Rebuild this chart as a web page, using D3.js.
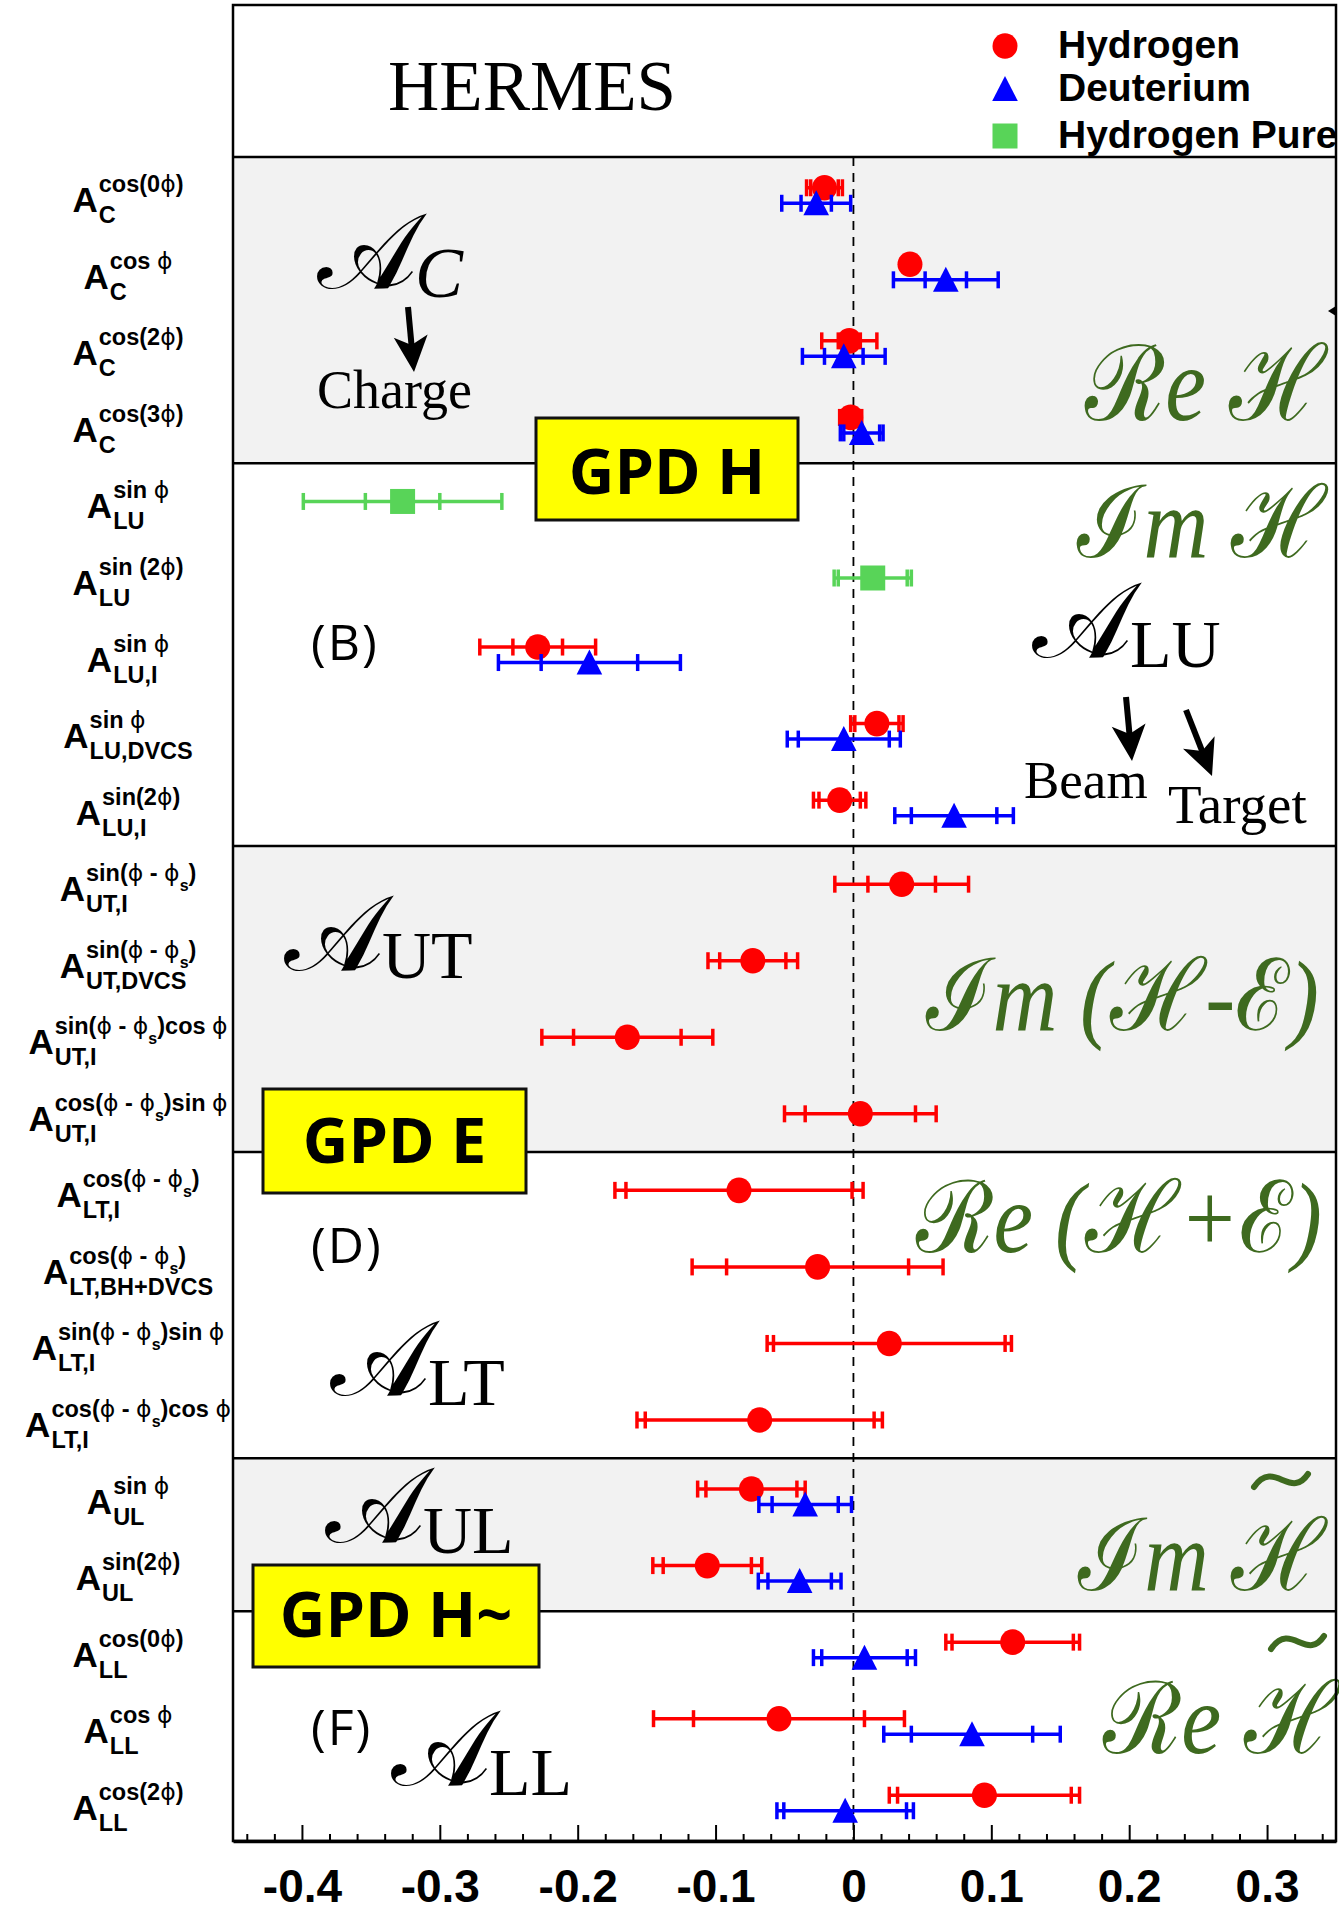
<!DOCTYPE html>
<html>
<head>
<meta charset="utf-8">
<script src="https://cdn.jsdelivr.net/npm/d3@7"></script>
<style>
  html, body { margin: 0; padding: 0; background: #fff; }
  svg { display: block; }
  text { white-space: pre; }
</style>
</head>
<body>
<svg id="chart" width="1339" height="1911"></svg>
<script>
// ---------- data ----------
// asymmetry labels: superscript (modulation) and subscript (type) of each row, top to bottom
const labelSup = [
  "cos(0ϕ)", "cos ϕ", "cos(2ϕ)", "cos(3ϕ)",
  "sin ϕ", "sin (2ϕ)", "sin ϕ", "sin ϕ", "sin(2ϕ)",
  "sin(ϕ - ϕ_s)", "sin(ϕ - ϕ_s)", "sin(ϕ - ϕ_s)cos ϕ", "cos(ϕ - ϕ_s)sin ϕ",
  "cos(ϕ - ϕ_s)", "cos(ϕ - ϕ_s)", "sin(ϕ - ϕ_s)sin ϕ", "cos(ϕ - ϕ_s)cos ϕ",
  "sin ϕ", "sin(2ϕ)",
  "cos(0ϕ)", "cos ϕ", "cos(2ϕ)"
];
const labelSub = [
  "C", "C", "C", "C",
  "LU", "LU", "LU,I", "LU,DVCS", "LU,I",
  "UT,I", "UT,DVCS", "UT,I", "UT,I",
  "LT,I", "LT,BH+DVCS", "LT,I", "LT,I",
  "UL", "UL",
  "LL", "LL", "LL"
];

// hydrogen target: value, statistical error, total error (null = not measured)
const hydrogenValue = [-0.021, 0.041, -0.003, -0.002, null, null, -0.229, 0.017, -0.010,
  0.035, -0.073, -0.164, 0.005, -0.083, -0.026, 0.026, -0.068, -0.074, -0.106, 0.1155, -0.054, 0.095];
const hydrogenStat = [0.010, 0.004, 0.008, 0.006, null, null, 0.018, 0.016, 0.015,
  0.0245, 0.024, 0.039, 0.040, 0.082, 0.066, 0.084, 0.083, 0.033, 0.032, 0.044, 0.062, 0.063];
const hydrogenTotal = [0.013, 0.005, 0.020, 0.008, null, null, 0.042, 0.019, 0.019,
  0.0485, 0.0325, 0.062, 0.055, 0.090, 0.091, 0.0886, 0.089, 0.039, 0.0395, 0.0485, 0.091, 0.069];

// deuterium target
const deuteriumValue = [-0.027, 0.067, -0.007, 0.006, null, null, -0.1915, -0.007, 0.073,
  null, null, null, null, null, null, null, null, -0.035, -0.039, 0.008, 0.086, -0.006];
const deuteriumStat = [0.011, 0.015, 0.014, 0.013, null, null, 0.035, 0.033, 0.031,
  null, null, null, null, null, null, null, null, 0.024, 0.023, 0.031, 0.044, 0.0445];
const deuteriumTotal = [0.025, 0.038, 0.030, 0.0155, null, null, 0.066, 0.041, 0.043,
  null, null, null, null, null, null, null, null, 0.0336, 0.030, 0.037, 0.064, 0.0495];

// pure hydrogen (recoil-tagged) sample
const pureValue = [null, null, null, null, -0.327, 0.014, null, null, null,
  null, null, null, null, null, null, null, null, null, null, null, null, null];
const pureStat = [null, null, null, null, 0.027, 0.025, null, null, null,
  null, null, null, null, null, null, null, null, null, null, null, null, null];
const pureTotal = [null, null, null, null, 0.072, 0.028, null, null, null,
  null, null, null, null, null, null, null, null, null, null, null, null, null];

// groups of rows (first row, one past last row)
const sectionStart = [0, 4, 9, 13, 17, 19];
const sectionEnd = [4, 9, 13, 17, 19, 22];

const tickValues = [-0.4, -0.3, -0.2, -0.1, 0, 0.1, 0.2, 0.3];
const tickLabels = ["-0.4", "-0.3", "-0.2", "-0.1", "0", "0.1", "0.2", "0.3"];
const legendNames = ["Hydrogen", "Deuterium", "Hydrogen Pure"];

// ---------- layout ----------
const svg = d3.select("#chart");
const plotL = 233, plotR = 1336, plotT = 5, headerB = 157, plotB = 1841;
const RED = "#ff0000", BLUE = "#0000ff", GREEN = "#58d458", TEXTGREEN = "#3e6a1f";
const SANS = "'Liberation Sans', Arial, Helvetica, sans-serif";
const SERIF = "'Liberation Serif', 'Times New Roman', serif";
const HUM = "'Open Sans', 'Noto Sans', sans-serif";

const x = d3.scaleLinear().domain([-0.45, 0.35]).range([plotL, plotR]);
const y = d3.scaleBand().domain(d3.range(labelSub.length)).range([headerB, plotB]);
const rowMid = i => y(i) + y.bandwidth() / 2;
const rowTop = i => (i >= labelSub.length ? plotB : y(i));

// shaded bands
const bands = svg.append("g");
sectionStart.forEach((s, k) => {
  if (k % 2 === 0) {
    bands.append("rect")
      .attr("x", plotL).attr("y", rowTop(s))
      .attr("width", plotR - plotL)
      .attr("height", rowTop(sectionEnd[k]) - rowTop(s))
      .attr("fill", "#f2f2f2");
  }
});

// ---------- text annotations ----------
const annot = svg.append("g");

function scriptText(parts, x0, base, size, width) {
  const t = annot.append("text")
    .attr("x", x0).attr("y", base)
    .attr("font-size", size)
    .attr("fill", TEXTGREEN)
    .attr("textLength", width)
    .attr("lengthAdjust", "spacingAndGlyphs");
  parts.forEach(([s, kind]) => {
    const sp = t.append("tspan").text(s);
    if (kind === "script") sp.attr("font-family", "'DejaVu Serif', serif");
    else sp.attr("font-family", SERIF).attr("font-style", "italic");
  });
  return t;
}
scriptText([["ℛ", "script"], ["e", "it"], [" ", "it"], ["ℋ", "script"]], 1085, 420, 105, 241);
scriptText([["ℐ", "script"], ["m", "it"], [" ", "it"], ["ℋ", "script"]], 1077, 557, 100, 249);
scriptText([["ℐ", "script"], ["m", "it"], [" (", "it"], ["ℋ", "script"], ["-", "it"], ["ℰ", "script"], [")", "it"]], 926, 1030, 100, 393);
scriptText([["ℛ", "script"], ["e", "it"], [" (", "it"], ["ℋ", "script"], ["+", "it"], ["ℰ", "script"], [")", "it"]], 916, 1252, 100, 406);
scriptText([["ℐ", "script"], ["m", "it"], [" ", "it"], ["ℋ", "script"]], 1078, 1590, 100, 248);
scriptText([["ℛ", "script"], ["e", "it"], [" ", "it"], ["ℋ", "script"]], 1103, 1753, 100, 236);
// tildes over the H of the two H-tilde labels
[[1254, 1487, 1308, 1474], [1271, 1649, 1324, 1636]].forEach(([x0, y0, x1, y1]) => {
  const w = x1 - x0;
  annot.append("path")
    .attr("d", `M${x0},${y0} C${x0 + w * 0.2},${y0 - 16} ${x0 + w * 0.4},${y0 - 10} ${x0 + w * 0.55},${(y0 + y1) / 2} S${x0 + w * 0.85},${y1 + 12} ${x1},${y1}`)
    .attr("fill", "none").attr("stroke", TEXTGREEN)
    .attr("stroke-width", 6).attr("stroke-linecap", "round");
});

// calligraphic A with subscript
function calA(x0, base, sub, subItalic, subBase) {
  const t = annot.append("text").attr("x", x0).attr("y", base)
    .attr("font-family", "'DejaVu Serif', serif").attr("font-size", 106).text("𝒜");
  const w = t.node().getComputedTextLength();
  annot.append("text").attr("x", x0 + w - 2).attr("y", subBase)
    .attr("font-family", SERIF).attr("font-size", subItalic ? 72 : 68)
    .attr("font-style", subItalic ? "italic" : "normal").text(sub);
}
calA(317, 288, "C", true, 297);
calA(1032, 657, "LU", false, 667);
calA(284, 970, "UT", false, 978);
calA(330, 1395, "LT", false, 1405);
calA(325, 1542, "UL", false, 1553);
calA(391, 1785, "LL", false, 1795);

annot.append("text").attr("x", 388).attr("y", 110)
  .attr("font-family", SERIF).attr("font-size", 71).text("HERMES");
annot.append("text").attr("x", 317).attr("y", 408)
  .attr("font-family", SERIF).attr("font-size", 54).text("Charge");
annot.append("text").attr("x", 1024).attr("y", 798)
  .attr("font-family", SERIF).attr("font-size", 53).text("Beam");
annot.append("text").attr("x", 1168).attr("y", 823)
  .attr("font-family", SERIF).attr("font-size", 55).text("Target");

[["(B)", 660], ["(D)", 1263], ["(F)", 1745]].forEach(([s, b]) => {
  annot.append("text").attr("x", 311).attr("y", b)
    .attr("font-family", HUM).attr("font-size", 50)
    .attr("letter-spacing", 2).text(s);
});

function arrow(x1, y1, x2, y2) {
  const ang = Math.atan2(y2 - y1, x2 - x1) * 180 / Math.PI;
  const len = Math.hypot(x2 - x1, y2 - y1);
  const g = annot.append("g").attr("transform", `translate(${x1},${y1}) rotate(${ang})`);
  g.append("line").attr("x1", 0).attr("y1", 0).attr("x2", len - 26).attr("y2", 0)
    .attr("stroke", "#000").attr("stroke-width", 6);
  g.append("path")
    .attr("d", `M${len},0 L${len - 36},-17 L${len - 27},0 L${len - 36},17 Z`)
    .attr("fill", "#000");
}
arrow(408, 307, 414, 372);
arrow(1126, 697, 1132, 761);
arrow(1186, 710, 1212, 776);

// ---------- zero line ----------
svg.append("line")
  .attr("x1", x(0)).attr("x2", x(0))
  .attr("y1", headerB).attr("y2", plotB)
  .attr("stroke", "#000").attr("stroke-width", 1.8)
  .attr("stroke-dasharray", "9,7");

// ---------- frame and separators ----------
const frame = svg.append("g");
frame.append("line").attr("x1", plotL).attr("x2", plotR)
  .attr("y1", headerB).attr("y2", headerB)
  .attr("stroke", "#000").attr("stroke-width", 2.5);
sectionStart.slice(1).forEach(s => {
  frame.append("line").attr("x1", plotL).attr("x2", plotR)
    .attr("y1", y(s)).attr("y2", y(s))
    .attr("stroke", "#000").attr("stroke-width", 2.5);
});
frame.append("rect").attr("x", plotL).attr("y", plotT)
  .attr("width", plotR - plotL).attr("height", plotB - plotT)
  .attr("fill", "none").attr("stroke", "#000").attr("stroke-width", 2.5);
frame.append("path").attr("d", `M${plotR - 8},311 L${plotR},306 L${plotR},316 Z`).attr("fill", "#000");

// ---------- GPD boxes ----------
function gpdBox(bx, by, bw, bh, label, base) {
  svg.append("rect").attr("x", bx).attr("y", by).attr("width", bw).attr("height", bh)
    .attr("fill", "#ffff00").attr("stroke", "#111").attr("stroke-width", 3);
  svg.append("text").attr("x", bx + bw / 2).attr("y", base)
    .attr("text-anchor", "middle")
    .attr("font-family", HUM).attr("font-weight", 700).attr("font-size", 63).text(label);
}
gpdBox(536, 418, 262, 102, "GPD H", 494);
gpdBox(263, 1089, 263, 104, "GPD E", 1163);
gpdBox(253, 1565, 286, 102, "GPD H~", 1637);

// ---------- data points ----------
const series = [
  { v: hydrogenValue, s: hydrogenStat, t: hydrogenTotal, color: RED, shape: "circle" },
  { v: pureValue, s: pureStat, t: pureTotal, color: GREEN, shape: "square" },
  { v: deuteriumValue, s: deuteriumStat, t: deuteriumTotal, color: BLUE, shape: "triangle" }
];
function rowOffset(i, shape) {
  const both = hydrogenValue[i] !== null && deuteriumValue[i] !== null;
  if (!both) return 0;
  return shape === "circle" ? -7.5 : 8;
}
function drawMarker(g, shape, color) {
  if (shape === "circle") g.append("ellipse").attr("rx", 12.5).attr("ry", 12.8).attr("fill", color);
  else if (shape === "triangle") g.append("path").attr("d", "M0,-13 L12.8,12 L-12.8,12 Z").attr("fill", color);
  else g.append("rect").attr("x", -12.5).attr("y", -12.5).attr("width", 25).attr("height", 25).attr("fill", color);
}
const dataLayer = svg.append("g");
series.forEach(sr => {
  const rows = d3.range(labelSub.length).filter(i => sr.v[i] !== null);
  const g = dataLayer.selectAll(null).data(rows).enter().append("g")
    .attr("transform", i => `translate(0,${rowMid(i) + rowOffset(i, sr.shape)})`);
  g.append("line")
    .attr("x1", i => x(sr.v[i] - sr.t[i])).attr("x2", i => x(sr.v[i] + sr.t[i]))
    .attr("stroke", sr.color).attr("stroke-width", 3.5);
  const ends = i => [sr.v[i] - sr.t[i], sr.v[i] + sr.t[i], sr.v[i] - sr.s[i], sr.v[i] + sr.s[i]];
  g.each(function (i) {
    const gg = d3.select(this);
    ends(i).forEach(e => {
      gg.append("line").attr("x1", x(e)).attr("x2", x(e)).attr("y1", -8.5).attr("y2", 8.5)
        .attr("stroke", sr.color).attr("stroke-width", 3.5);
    });
    const m = gg.append("g").attr("transform", `translate(${x(sr.v[i])},0)`);
    drawMarker(m, sr.shape, sr.color);
  });
});

// ---------- legend ----------
const legend = svg.append("g");
[[RED, "circle", 46], [BLUE, "triangle", 89], [GREEN, "square", 136]].forEach(([c, sh, ly], k) => {
  const m = legend.append("g").attr("transform", `translate(1005,${ly})`);
  drawMarker(m, sh, c);
  legend.append("text").attr("x", 1058).attr("y", ly + 12)
    .attr("font-family", SANS).attr("font-weight", "bold").attr("font-size", 39)
    .text(legendNames[k]);
});

// ---------- row labels ----------
const labels = svg.append("g").attr("font-family", SANS).attr("font-weight", "bold");
function richText(t, str, size) {
  const parts = str.split(/(ϕ|_s)/).filter(p => p !== "");
  let lowered = false;
  parts.forEach(p => {
    if (p === "_s") {
      t.append("tspan").attr("font-size", size * 0.68).attr("dy", size * 0.42).text("s");
      lowered = true;
    } else {
      const sp = t.append("tspan").text(p);
      if (lowered) { sp.attr("dy", -size * 0.42); lowered = false; }
      if (p === "ϕ") sp.attr("font-family", "'DejaVu Sans', sans-serif").attr("font-weight", "normal");
    }
  });
}
labelSub.forEach((sub, i) => {
  const g = labels.append("g");
  const a = g.append("text").attr("y", 17).attr("font-size", 35).text("A");
  const aw = a.node().getComputedTextLength();
  const sp = g.append("text").attr("x", aw + 1).attr("y", -3).attr("font-size", 23.5);
  richText(sp, labelSup[i], 23.5);
  const sb = g.append("text").attr("x", aw + 1).attr("y", 28).attr("font-size", 23.5).text(sub);
  const w = aw + 1 + Math.max(sp.node().getComputedTextLength(), sb.node().getComputedTextLength());
  g.attr("transform", `translate(${128 - w / 2},${rowMid(i)})`);
});

// ---------- x axis ----------
const minorTicks = d3.range(-44, 35, 2).map(d => d / 100).filter(d => Math.abs(Math.round(d * 10) - d * 10) > 1e-6);
svg.append("g").attr("transform", `translate(0,${plotB})`)
  .call(d3.axisBottom(x).tickValues(minorTicks).tickFormat("").tickSizeInner(-7).tickSizeOuter(0))
  .call(g => g.select(".domain").remove())
  .call(g => g.selectAll("line").attr("stroke-width", 2));
const ax = svg.append("g").attr("transform", `translate(0,${plotB})`)
  .call(d3.axisBottom(x).tickValues(tickValues).tickFormat((d, k) => tickLabels[k])
    .tickSizeInner(-16).tickSizeOuter(0).tickPadding(28));
ax.attr("font-family", SANS).attr("font-size", 46).attr("font-weight", "bold");
ax.select(".domain").attr("stroke-width", 3.5);
ax.selectAll(".tick line").attr("stroke-width", 2);
</script>
</body>
</html>
